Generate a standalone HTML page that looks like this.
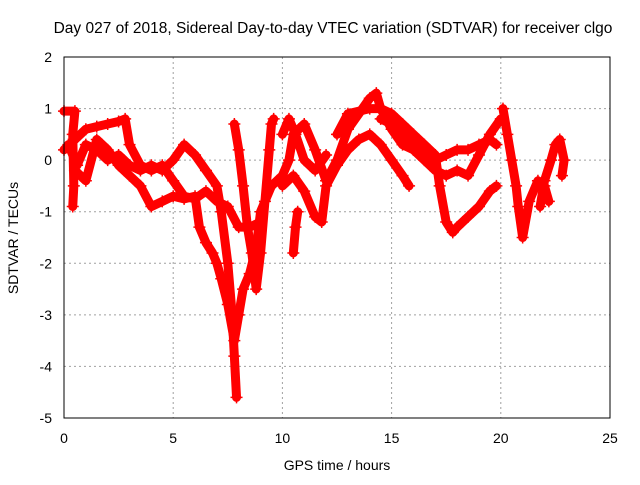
<!DOCTYPE html>
<html><head><meta charset="utf-8"><style>
body{margin:0;background:#fff}
svg text{font-family:"Liberation Sans",sans-serif;font-size:14px;fill:#000}
</style></head><body>
<svg id="chart" width="640" height="480">
<text x="333" y="33" text-anchor="middle" style="font-size:15.5px">Day 027 of 2018, Sidereal Day-to-day VTEC variation (SDTVAR) for receiver clgo</text>
<text x="337" y="470" text-anchor="middle">GPS time / hours</text>
<text transform="translate(18,238) rotate(-90)" text-anchor="middle">SDTVAR / TECUs</text>
<g id="grid"></g><g id="axes"></g><g id="data"></g>
<rect x="64" y="57" width="546" height="361" fill="none" stroke="#000"/>
</svg>
<script>
const xTicks=[0,5,10,15,20,25];
const yTicks=[2,1,0,-1,-2,-3,-4,-5];
const t1=[[0,0.2],[0.5,0.4],[1,0.6],[1.5,0.65],[2,0.7],[2.5,0.75],[2.8,0.8],[3,0.3],[3.5,-0.1],[4,-0.2],[4.5,-0.1],[5,-0.4],[5.5,-0.7],[6,-0.75],[6.5,-0.6],[7,-0.8],[7.5,-0.9],[8,-1.3],[8.5,-1.3],[9,-1.2]];
const t2=[[0.2,0.3],[0.6,-0.1],[1,0.3],[1.5,0.2],[2,0.0],[2.5,0.1],[3,-0.1],[3.5,-0.2],[4,-0.1],[4.5,-0.2],[5,0.0],[5.5,0.3],[6,0.1],[6.5,-0.2],[7,-0.5],[7.2,-1.0],[7.5,-2],[7.7,-3],[7.8,-3.8],[7.9,-4.6]];
const t3=[[0.5,-0.2],[1,-0.4],[1.5,0.4],[2,0.2],[2.5,-0.1],[3,-0.3],[3.5,-0.5],[4,-0.9],[4.5,-0.8],[5,-0.7],[5.5,-0.75],[6,-0.7],[6.2,-1.3],[6.5,-1.6],[6.8,-1.8],[7,-2.0],[7.2,-2.3],[7.5,-2.8],[7.8,-3.5],[8,-3.0],[8.2,-2.5],[8.5,-2.2],[8.8,-1.7],[9,-1.0],[9.5,-0.5]];
const t4=[[7.8,0.7],[8,0.2],[8.2,-0.5],[8.4,-1.3],[8.6,-1.8],[8.8,-2.5],[9,-1.8],[9.2,-0.8],[9.4,0.2],[9.5,0.7],[9.6,0.8]];
const t5=[[9.5,-0.5],[10,-0.3],[10.3,0],[10.5,0.5],[11,0.7],[11.5,0.2],[12,-0.4],[12.5,0.0],[13,0.6],[13.5,0.9],[14,1.2],[14.3,1.3],[14.5,1.0],[15,0.6],[15.5,0.3],[16,0.2],[16.5,0.0],[17,-0.2],[17.5,-0.3],[18,-0.2],[18.5,-0.3],[19,0.1],[19.5,0.5],[20,0.8]];
const t6=[[10,-0.5],[10.5,-0.3],[11,-0.6],[11.5,-1.1],[11.8,-1.2],[12,-0.5],[12.5,-0.1],[13,0.2],[13.5,0.4],[14,0.5],[14.5,0.3],[15,0.0],[15.5,-0.3],[15.8,-0.5]];
const t7=[[12.5,0.5],[13,0.9],[14,1.0],[14.5,1.0],[15,0.9],[15.5,0.7],[16,0.5],[16.5,0.3],[17,0.1],[17.2,-0.5],[17.5,-1.2],[17.8,-1.4],[18,-1.3],[18.5,-1.1],[19,-0.9],[19.5,-0.6],[19.8,-0.5]];
const t8=[[14.5,0.8],[15,0.7],[15.5,0.5],[16,0.3],[16.5,0.1],[17,0.0],[17.5,0.1],[18,0.2],[18.5,0.2],[19,0.3],[19.5,0.4],[19.8,0.3]];
const t9=[[10.5,-1.8],[10.6,-1.3],[10.7,-1.0]];
const t10=[[10,0.5],[10.3,0.8],[10.6,0.5],[11,0.0],[11.5,-0.2],[12,0.1]];
const t11=[[20.1,1.0],[20.3,0.5],[20.5,0.0],[20.7,-0.5],[20.8,-0.9],[21,-1.5],[21.3,-0.8],[21.7,-0.4],[22,-0.5],[22.2,-0.8]];
const t12=[[21.8,-0.9],[22,-0.4],[22.3,0.0],[22.5,0.3],[22.7,0.4],[22.9,0.0],[22.8,-0.3]];
const t13=[[0,0.95],[0.5,0.95],[0.4,0.5],[0.45,-0.5],[0.4,-0.9]];
const tracks=[t1,t2,t3,t4,t5,t6,t7,t8,t9,t10,t11,t12,t13];
const NS="http://www.w3.org/2000/svg";
const X=v=>64+v*546/25, Y=v=>57+(2-v)*361/7;
const grid=document.getElementById('grid'),axes=document.getElementById('axes'),data=document.getElementById('data');
function mk(tag,attrs,parent){const e=document.createElementNS(NS,tag);for(const k in attrs)e.setAttribute(k,attrs[k]);parent.appendChild(e);return e;}
xTicks.forEach(t=>{const x=X(t);
 const g=mk('line',{x1:x,x2:x,y1:57,y2:418,stroke:'#a0a0a0','stroke-dasharray':'2,3'},grid);
 
 
 const l=mk('text',{x:x,y:443,'text-anchor':'middle'},axes);l.textContent=t;
 
 });
yTicks.forEach(t=>{const y=Y(t);
 const g=mk('line',{x1:64,x2:610,y1:y,y2:y,stroke:'#a0a0a0','stroke-dasharray':'2,3'},grid);
 
 
 const l=mk('text',{x:52,y:y+5,'text-anchor':'end'},axes);l.textContent=t;
 
 });
tracks.forEach(tr=>{
 const p=mk('polyline',{points:tr.map(d=>X(d[0])+','+Y(d[1])).join(' '),fill:'none',stroke:'#ff0000','stroke-width':9,'stroke-linejoin':'round','stroke-linecap':'round'},data);
 
 
 tr.forEach(d=>{const x=X(d[0]),y=Y(d[1]);
  const m=mk('path',{d:`M${x-6},${y}h12M${x},${y-6}v12`,stroke:'#ff0000','stroke-width':1.5},data);
  
  });
});
</script>
</body></html>
